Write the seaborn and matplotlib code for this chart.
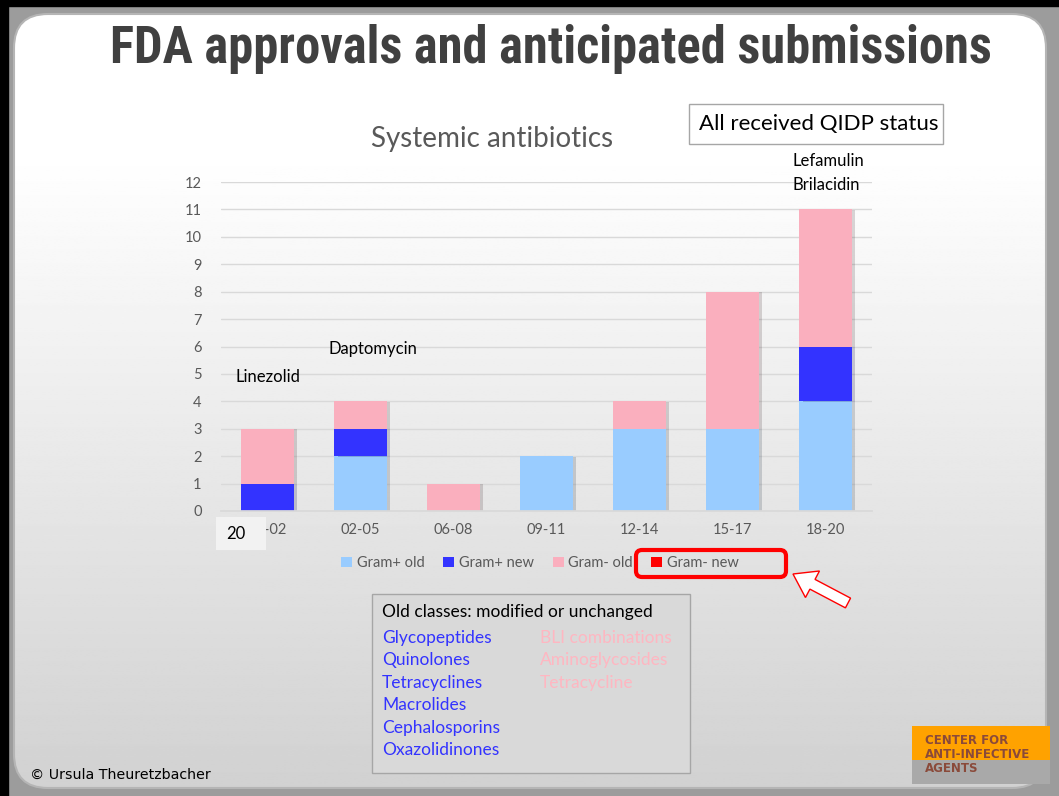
import numpy as np
import pandas as pd
import matplotlib
matplotlib.use('Agg')
import matplotlib.pyplot as plt
import matplotlib.patheffects as pe
from matplotlib import font_manager
from matplotlib.patches import FancyBboxPatch, Rectangle, FancyArrow
import seaborn as sns

# ── Data ──────────────────────────────────────────────────
periods = ["00-02", "02-05", "06-08", "09-11", "12-14", "15-17", "18-20"]
gram_pos_old = [0, 2, 0, 2, 3, 3, 4]
gram_pos_new = [1, 1, 0, 0, 0, 0, 2]
gram_neg_old = [2, 1, 1, 0, 1, 5, 5]
gram_neg_new = [0, 0, 0, 0, 0, 0, 0]
series_names = ["Gram+ old", "Gram+ new", "Gram- old", "Gram- new"]
series_colors = ["#99CCFF", "#3333FF", "#FAAFBE", "#FF0000"]

old_pos_classes = ["Glycopeptides", "Quinolones", "Tetracyclines",
                   "Macrolides", "Cephalosporins", "Oxazolidinones"]
old_neg_classes = ["BLI combinations", "Aminoglycosides", "Tetracycline"]

W, H = 1059, 796
sns.set_theme(style="white")
plt.rcParams['font.family'] = ['Lato', 'DejaVu Sans']

# narrowest bold font available for the slide title
installed = {f.name for f in font_manager.fontManager.ttflist}
title_font = 'DejaVu Sans'
for cand in ['Roboto Condensed', 'Liberation Sans Narrow', 'DejaVu Sans Condensed']:
    if cand in installed:
        title_font = cand
        break

fig = plt.figure(figsize=(W / 100, H / 100), dpi=100)
fig.patch.set_facecolor("#9c9c9c")

# ── Slide background (pixel coordinates) ─────────────────
bg = fig.add_axes([0, 0, 1, 1], zorder=0)
bg.set_xlim(0, W)
bg.set_ylim(H, 0)
bg.axis("off")
bg.add_patch(Rectangle((0, 0), W, 6, color="black", zorder=1))
bg.add_patch(Rectangle((0, 0), 8, H, color="black", zorder=1))
slide = FancyBboxPatch((14, 14), 1032, 774, boxstyle="round,pad=0,rounding_size=34",
                       facecolor="none", edgecolor="#b5b5b5", lw=1.5, zorder=3)
bg.add_patch(slide)
yy = np.linspace(0, 1, 400)
shade = np.clip((yy - 0.18) / 0.82, 0, 1)
grad = 1.0 - 0.18 * shade
img = bg.imshow(np.tile(grad[:, None], (1, 2)), cmap="gray", vmin=0, vmax=1,
                extent=[14, 1046, 788, 14], aspect="auto", zorder=2)
img.set_clip_path(slide)

# ── Chart ────────────────────────────────────────────────
ax = fig.add_axes([221 / W, 1 - 511 / H, (872 - 221) / W, (511 - 182) / H], zorder=5)
ax.patch.set_alpha(0)
bottom = np.zeros(len(periods))
for name, vals, col in zip(series_names,
                           [gram_pos_old, gram_pos_new, gram_neg_old, gram_neg_new],
                           series_colors):
    sns.barplot(x=periods, y=vals, bottom=bottom, color=col, width=0.56,
                label=name, ax=ax, saturation=1, linewidth=0)
    bottom = bottom + np.array(vals)

ax.set_ylim(0, 12)
ax.set_xlim(-0.5, 6.5)
ax.set_yticks(range(13))
ax.yaxis.grid(True, color="#d9d9d9", lw=1)
ax.set_axisbelow(True)
sns.despine(ax=ax, left=True, bottom=True)
ax.spines["bottom"].set_visible(True)
ax.spines["bottom"].set_color("#d9d9d9")
ax.tick_params(axis="both", colors="#595959", labelsize=10.5, length=0)
ax.tick_params(axis="y", pad=14)
ax.tick_params(axis="x", pad=9)
ax.set_xlabel("")
ax.set_ylabel("")

leg = ax.legend(loc="center", bbox_to_anchor=(0.49, -0.158), ncol=4, frameon=False,
                handlelength=0.75, handleheight=0.75, handletextpad=0.3,
                columnspacing=1.3, fontsize=10.5)
for t in leg.get_texts():
    t.set_color("#595959")

# soft shadow on the right side of the bars (after legend so handles stay flat)
for p in ax.patches:
    p.set_path_effects([pe.SimplePatchShadow(offset=(2.5, -0.5), alpha=0.2), pe.Normal()])

ax.text(-0.34, 4.9, "Linezolid", fontsize=12, color="black", va="center", clip_on=False)
ax.text(0.66, 5.9, "Daptomycin", fontsize=12, color="black", va="center", clip_on=False)
ax.text(5.64, 12.75, "Lefamulin", fontsize=12, color="black", va="center", clip_on=False)
ax.text(5.64, 11.9, "Brilacidin", fontsize=12, color="black", va="center", clip_on=False)

# ── Overlay texts and shapes ─────────────────────────────
ov = fig.add_axes([0, 0, 1, 1], zorder=10)
ov.set_xlim(0, W)
ov.set_ylim(H, 0)
ov.axis("off")
ov.patch.set_alpha(0)

title = ov.text(551, 49, "FDA approvals and anticipated submissions", ha="center", va="center",
                fontsize=30, fontweight="bold", color="#404040", family=title_font)
# fit the title to the width it has on the slide (about 883 px)
renderer = fig.canvas.get_renderer()
tw = title.get_window_extent(renderer).width
title.set_fontsize(30 * 883 / tw)

ov.text(492, 139, "Systemic antibiotics", ha="center", va="center", fontsize=20, color="#595959")

ov.add_patch(Rectangle((689, 104), 254, 40, facecolor="white", edgecolor="#a6a6a6", lw=1))
ov.text(699, 124, "All received QIDP status", va="center", fontsize=16, color="black")

ov.add_patch(Rectangle((216, 517), 50, 33, facecolor="#f2f2f2", edgecolor="none"))
ov.text(226, 534, "20", va="center", fontsize=12, color="black")

ov.add_patch(FancyBboxPatch((636, 550), 150, 27, boxstyle="round,pad=0,rounding_size=6",
                            facecolor="none", edgecolor="#ff0000", lw=3))
ov.add_patch(FancyArrow(848, 603, -55, -29, width=11, head_width=30, head_length=22,
                        length_includes_head=True, facecolor="white", edgecolor="#ff0000", lw=1))

ov.add_patch(Rectangle((372, 594), 318, 179, facecolor="#d9d9d9", edgecolor="#a6a6a6", lw=1))
ov.text(382, 612, "Old classes: modified or unchanged", va="center", fontsize=12.5, color="black")
for i, name in enumerate(old_pos_classes):
    ov.text(382, 638 + i * 22.4, name, va="center", fontsize=12.5, color="#3333ff")
for i, name in enumerate(old_neg_classes):
    ov.text(540, 638 + i * 22.4, name, va="center", fontsize=12.5, color="#ffb6c1")

ov.text(30, 775, "© Ursula Theuretzbacher", va="center", fontsize=10.2, color="black",
        family="DejaVu Sans")

ov.add_patch(Rectangle((912, 726), 138, 34, facecolor="#ffa200", edgecolor="none"))
ov.add_patch(Rectangle((912, 760), 138, 24, facecolor="#a9a9a9", edgecolor="none"))
for j, line in enumerate(["CENTER FOR", "ANTI-INFECTIVE", "AGENTS"]):
    ov.text(925, 740 + j * 14, line, va="center", fontsize=8.5, fontweight="bold",
            color="#8a4a3a", family="DejaVu Sans")

plt.savefig("out.png", dpi=100, facecolor=fig.get_facecolor())
